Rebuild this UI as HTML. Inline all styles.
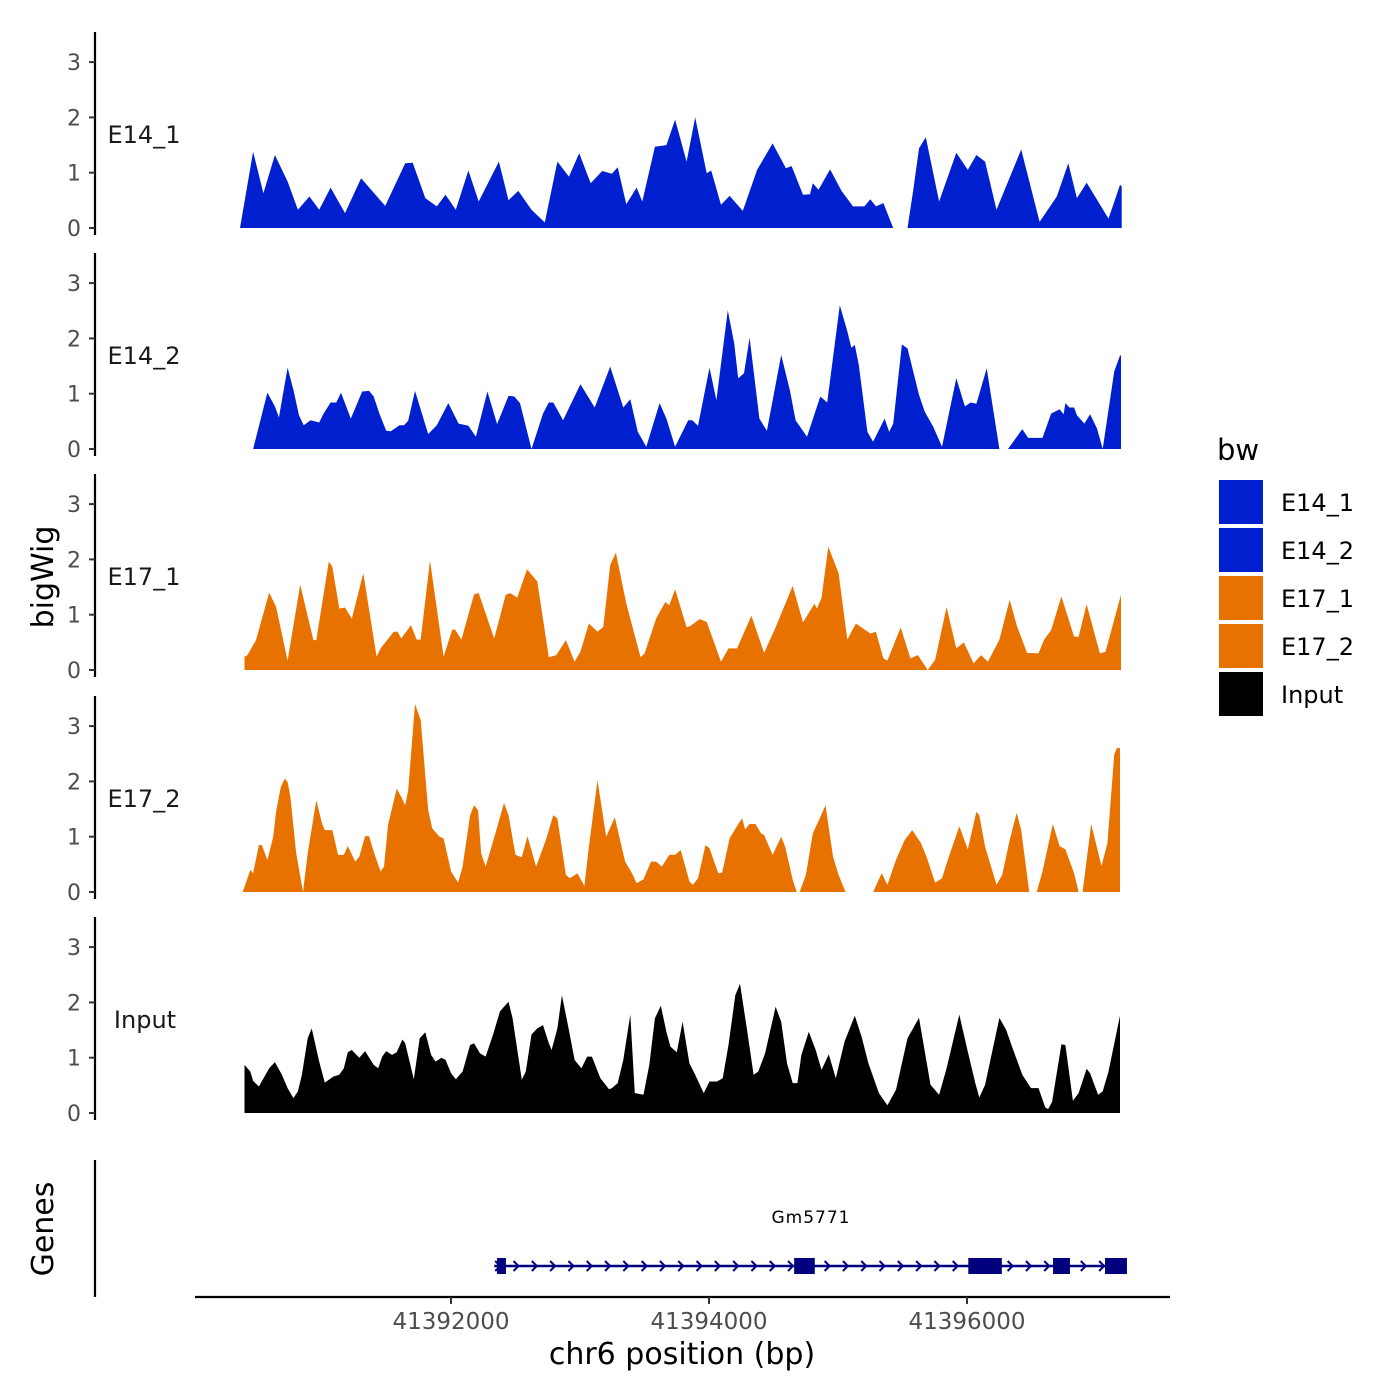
<!DOCTYPE html>
<html><head><meta charset="utf-8"><style>
body{margin:0;background:#fff}
svg{display:block;font-family:"DejaVu Sans","Liberation Sans",sans-serif}
</style></head><body>
<svg id="chart" width="1400" height="1400" viewBox="0 0 1400 1400">
</svg>
<script>
const regionStart = 41390288;
const trackNames = ["E14_1","E14_2","E17_1","E17_2","Input"];
const yTicks = [0,1,2,3];
const xTicks = [41392000,41394000,41396000];
const xTickLabels = ["41392000","41394000","41396000"];
const geneName = "Gm5771";
const geneStartBp = 41392335, geneEndBp = 41397225;
const exonStarts = [41392357,41394660,41396010,41396667,41397070];
const exonEnds   = [41392426,41394820,41396270,41396798,41397240];

const e141Pos = [76,178,258,347,445,525,614,690,779,890,1015,1202,1357,1415,1513,1602,1669,1749,1847,1927,2083,2158,2234,2336,2439,2537,2626,2706,2795,2884,2959,3004,3071,3151,3195,3293,3382,3449,3538,3605,3694,3729,3805,3872,3974,4085,4205,4308,4352,4441,4495,4517,4561,4651,4739,4828,4917,4962,5006,5064,5140,5251,5296,5340,5393,5496,5629,5718,5785,5852,5941,6132,6275,6408,6497,6564,6640,6809,6898,6911];
const e141Val = [0,1.38,0.63,1.32,0.84,0.33,0.57,0.33,0.73,0.27,0.9,0.4,1.17,1.18,0.54,0.39,0.6,0.33,1.04,0.48,1.2,0.5,0.67,0.33,0.1,1.2,0.93,1.35,0.81,1.03,0.98,1.1,0.43,0.73,0.48,1.47,1.5,1.96,1.2,2.0,0.99,1.04,0.42,0.58,0.31,1.05,1.53,1.08,1.12,0.6,0.61,0.81,0.69,1.06,0.67,0.39,0.39,0.52,0.39,0.45,0,0,0.69,1.44,1.64,0.48,1.36,1.05,1.32,1.2,0.33,1.42,0.11,0.57,1.17,0.54,0.82,0.17,0.78,0.75];

const e142Pos = [178,289,347,378,445,490,534,570,623,690,721,779,823,859,935,1024,1077,1113,1157,1210,1246,1313,1348,1380,1433,1535,1602,1691,1771,1847,1905,1994,2069,2158,2203,2247,2336,2425,2470,2505,2581,2715,2826,2946,3048,3102,3160,3226,3329,3382,3449,3551,3582,3627,3716,3769,3858,3907,3938,3983,4027,4103,4161,4272,4339,4383,4472,4575,4628,4726,4784,4815,4842,4873,4940,4984,5073,5109,5140,5207,5251,5273,5340,5385,5451,5518,5629,5696,5741,5785,5865,5963,6030,6141,6186,6297,6364,6430,6461,6475,6506,6542,6564,6622,6666,6720,6764,6853,6898,6906];
const e142Val = [0,1.02,0.77,0.57,1.47,1.07,0.61,0.43,0.52,0.48,0.63,0.84,0.84,1.02,0.55,1.04,1.05,0.95,0.64,0.33,0.32,0.43,0.43,0.51,1.05,0.27,0.43,0.83,0.46,0.42,0.22,1.04,0.45,0.96,0.95,0.83,0,0.64,0.84,0.84,0.52,1.17,0.75,1.49,0.75,0.9,0.31,0.04,0.83,0.55,0.04,0.52,0.52,0.42,1.47,0.88,2.51,1.91,1.28,1.37,2.01,0.55,0.33,1.7,1.06,0.52,0.22,0.95,0.84,2.6,2.13,1.83,1.88,1.52,0.31,0.13,0.55,0.31,0.46,1.89,1.82,1.61,0.98,0.67,0.4,0.04,1.28,0.77,0.84,0.82,1.46,0,0,0.36,0.2,0.2,0.64,0.72,0.63,0.83,0.75,0.75,0.61,0.46,0.63,0.37,0,1.4,1.69,1.69];

const e171Pos = [111,134,200,303,356,445,543,645,668,765,792,846,890,943,1032,1135,1166,1268,1299,1326,1402,1446,1477,1549,1655,1722,1744,1793,1891,1927,2047,2136,2172,2225,2301,2381,2470,2528,2603,2670,2715,2781,2848,2893,2946,2990,3071,3182,3213,3302,3373,3404,3449,3538,3569,3640,3694,3805,3863,3929,4041,4139,4228,4361,4441,4530,4548,4584,4637,4717,4784,4851,4962,5006,5064,5095,5198,5273,5331,5407,5465,5554,5629,5687,5763,5821,5874,5963,6043,6097,6177,6266,6310,6364,6444,6542,6577,6639,6742,6786,6906];
const e171Val = [0.24,0.27,0.54,1.4,1.14,0.17,1.54,0.54,0.54,1.96,1.87,1.11,1.13,0.93,1.75,0.24,0.39,0.69,0.69,0.57,0.81,0.55,0.55,1.98,0.24,0.73,0.73,0.55,1.37,1.39,0.57,1.36,1.39,1.31,1.82,1.6,0.23,0.27,0.54,0.15,0.33,0.84,0.69,0.78,1.9,2.12,1.2,0.23,0.3,0.93,1.23,1.17,1.46,0.77,0.8,0.92,0.87,0.15,0.39,0.39,0.98,0.31,0.77,1.52,0.86,1.2,1.11,1.3,2.23,1.75,0.55,0.84,0.66,0.69,0.21,0.17,0.77,0.21,0.27,0,0.18,1.14,0.39,0.5,0.12,0.27,0.15,0.55,1.27,0.81,0.31,0.3,0.55,0.72,1.33,0.6,0.6,1.19,0.3,0.33,1.36];

const e172Pos = [98,156,178,223,245,289,334,356,392,423,445,467,512,565,601,668,712,734,792,837,881,912,970,1001,1046,1077,1113,1166,1193,1224,1291,1326,1357,1380,1433,1477,1535,1566,1624,1655,1713,1767,1802,1860,1891,1922,1945,1980,2056,2123,2158,2212,2261,2305,2372,2448,2505,2537,2603,2634,2692,2746,2781,2848,2915,2982,3062,3115,3151,3204,3262,3302,3346,3404,3449,3493,3560,3587,3627,3685,3716,3783,3814,3872,3938,3969,3992,4027,4072,4116,4139,4205,4272,4303,4361,4392,4414,4463,4517,4570,4615,4673,4717,4770,4984,5051,5095,5162,5229,5287,5353,5398,5465,5518,5563,5598,5652,5718,5785,5807,5852,5941,5985,6043,6097,6132,6194,6252,6297,6377,6430,6475,6542,6577,6608,6675,6755,6800,6853,6875,6898];
const e172Val = [0,0.4,0.34,0.85,0.85,0.58,1.0,1.45,1.89,2.05,1.99,1.72,0.7,0,0.7,1.66,1.24,1.12,1.12,0.67,0.67,0.83,0.55,0.64,1.01,1.01,0.73,0.37,0.46,1.21,1.87,1.72,1.57,1.84,3.4,3.11,1.48,1.15,1.0,0.97,0.37,0.17,0.46,1.39,1.57,1.48,0.7,0.46,1.06,1.61,1.39,0.67,0.63,1.01,0.46,0.94,1.39,1.33,0.31,0.25,0.34,0.11,0.82,2.02,1.0,1.35,0.55,0.34,0.16,0.23,0.55,0.55,0.46,0.67,0.67,0.76,0.19,0.13,0.25,0.85,0.79,0.34,0.35,0.97,1.23,1.33,1.13,1.23,1.23,1.06,1.03,0.67,1.0,0.82,0.22,0,0,0.31,1.06,1.33,1.57,0.64,0.31,0,0,0.34,0.13,0.58,0.94,1.12,0.89,0.64,0.17,0.25,0.58,0.82,1.19,0.77,1.45,1.39,0.82,0.13,0.31,0.94,1.43,1.12,0,0,0.37,1.23,0.83,0.77,0.34,0,0,1.23,0.47,0.88,2.48,2.61,2.6];

const inputPos = [111,156,178,223,303,347,401,445,490,525,556,601,632,690,734,801,846,881,912,943,1001,1046,1113,1148,1179,1210,1255,1291,1335,1357,1424,1469,1513,1558,1593,1638,1669,1713,1749,1802,1860,1891,1936,1980,2038,2092,2158,2189,2261,2292,2336,2381,2425,2470,2492,2537,2572,2626,2670,2723,2768,2804,2870,2937,2959,3004,3048,3102,3137,3204,3249,3293,3338,3382,3413,3462,3507,3560,3605,3671,3716,3774,3818,3863,3916,3952,4005,4058,4094,4147,4228,4272,4317,4361,4397,4428,4486,4539,4584,4641,4695,4762,4842,4895,4948,5029,5095,5162,5251,5340,5429,5496,5554,5652,5718,5776,5807,5852,5963,6016,6061,6141,6208,6266,6319,6341,6372,6444,6475,6533,6577,6639,6666,6728,6764,6809,6898];
const inputVal = [0.87,0.75,0.58,0.48,0.81,0.92,0.69,0.45,0.27,0.39,0.69,1.35,1.53,0.93,0.55,0.66,0.69,0.81,1.1,1.14,1.0,1.12,0.87,0.81,1.02,1.12,1.05,1.1,1.33,1.26,0.61,1.35,1.46,1.05,0.93,1.0,0.96,0.72,0.61,0.75,1.23,1.26,1.08,1.02,1.42,1.84,2.01,1.72,0.6,0.75,1.42,1.53,1.59,1.26,1.14,1.53,2.13,1.5,0.96,0.81,1.02,1.02,0.63,0.43,0.45,0.54,0.96,1.78,0.36,0.33,0.87,1.71,1.94,1.47,1.2,1.1,1.65,0.9,0.69,0.36,0.57,0.57,0.63,1.23,2.13,2.34,1.53,0.69,0.75,1.08,1.92,1.65,0.9,0.54,0.54,1.05,1.47,1.14,0.78,1.06,0.63,1.29,1.76,1.38,0.9,0.36,0.14,0.42,1.35,1.72,0.51,0.33,0.81,1.78,1.11,0.54,0.28,0.51,1.72,1.5,1.2,0.69,0.45,0.45,0.1,0.07,0.2,1.24,1.23,0.22,0.36,0.8,0.72,0.33,0.39,0.75,1.76];

const trackPos = [e141Pos,e142Pos,e171Pos,e172Pos,inputPos];
const trackVal = [e141Val,e142Val,e171Val,e172Val,inputVal];
const trackColors = ["#0020d0","#0020d0","#e87200","#e87200","#000000"];

const NS="http://www.w3.org/2000/svg";
const svg=document.getElementById('chart');
function mk(tag,attrs,parent,text){const e=document.createElementNS(NS,tag);for(const k in attrs)e.setAttribute(k,attrs[k]);if(text!==undefined)e.textContent=text;(parent||svg).appendChild(e);return e;}
const xScale = bp => 451 + (bp-41392000)*0.129;
const baselines = [228,449,670,892,1113];
const yScale = (t,v) => baselines[t] - v*55.3;

trackNames.forEach((name,t)=>{
  const g=mk('g',{});
  
  
  const ax=mk('line',{x1:95,x2:95,y1:baselines[t]-196,y2:baselines[t]+7,stroke:'#000','stroke-width':2.2},g);
  
  
  yTicks.forEach(v=>{
    const y=yScale(t,v);
    mk('line',{x1:89,x2:95,y1:y,y2:y,stroke:'#333','stroke-width':2},g);
    const lb=mk('text',{x:81,y:y+8,'text-anchor':'end','font-size':22,fill:'#4d4d4d'},g,String(v));
    
    
  });
  const P=trackPos[t],V=trackVal[t];
  let d='M'+xScale(regionStart+P[0]).toFixed(1)+','+baselines[t];
  for(let i=0;i<P.length;i++) d+=' L'+xScale(regionStart+P[i]).toFixed(1)+','+yScale(t,V[i]).toFixed(1);
  d+=' L'+xScale(regionStart+P[P.length-1]).toFixed(1)+','+baselines[t]+' Z';
  const area=mk('path',{d:d,fill:trackColors[t]},g);
  
  
  const tl=mk('text',{x:name==='Input'?145:144,y:yScale(t,1.7)+9,'text-anchor':'middle','font-size':24,fill:'#1a1a1a'},g,name);
  
  
});

const yt=mk('text',{x:0,y:0,transform:'translate(53,577) rotate(-90)','text-anchor':'middle','font-size':30,fill:'#000'},svg,'bigWig');



const gg=mk('g',{});


mk('line',{x1:95,x2:95,y1:1160,y2:1297,stroke:'#000','stroke-width':2.2},gg);
const gt=mk('text',{x:0,y:0,transform:'translate(53,1229) rotate(-90)','text-anchor':'middle','font-size':30,fill:'#000'},gg,'Genes');


const gx0=xScale(geneStartBp),gx1=xScale(geneEndBp);
const gl=mk('line',{x1:gx0,x2:gx1,y1:1266,y2:1266,stroke:'#00007f','stroke-width':2.5},gg);


for(let x=gx0+4;x<gx1-4;x+=18.3){
  mk('path',{d:`M${x-3},${1261} L${x+2},${1266} L${x-3},${1271}`,fill:'none',stroke:'#00007f','stroke-width':2},gg);
}
exonStarts.forEach((s,i)=>{
  const ex=mk('rect',{x:xScale(s),y:1258,width:xScale(exonEnds[i])-xScale(s),height:16,fill:'#00007f'},gg);
  
  
});
const gn=mk('text',{x:811,y:1223,'text-anchor':'middle','font-size':17,fill:'#000','letter-spacing':'1'},gg,geneName);



const xa=mk('line',{x1:195,x2:1170,y1:1297,y2:1297,stroke:'#000','stroke-width':2.2});


xTicks.forEach((b,i)=>{
  const x=xScale(b);
  mk('line',{x1:x,x2:x,y1:1297,y2:1304,stroke:'#333','stroke-width':2});
  const l=mk('text',{x:x,y:1329,'text-anchor':'middle','font-size':23,fill:'#4d4d4d'},svg,xTickLabels[i]);
  
  
});
const xt=mk('text',{x:682,y:1364,'text-anchor':'middle','font-size':30,fill:'#000'},svg,'chr6 position (bp)');



const lg=mk('g',{});


mk('text',{x:1217,y:460,'font-size':29,fill:'#000'},lg,'bw');
trackNames.forEach((n,i)=>{
  const y=480+i*48;
  const k=mk('rect',{x:1219,y:y,width:44,height:44,fill:trackColors[i]},lg);
  
  
  const tx=mk('text',{x:1281,y:y+31,'font-size':24,fill:'#000'},lg,n);
  
  
});
</script>
</body></html>
